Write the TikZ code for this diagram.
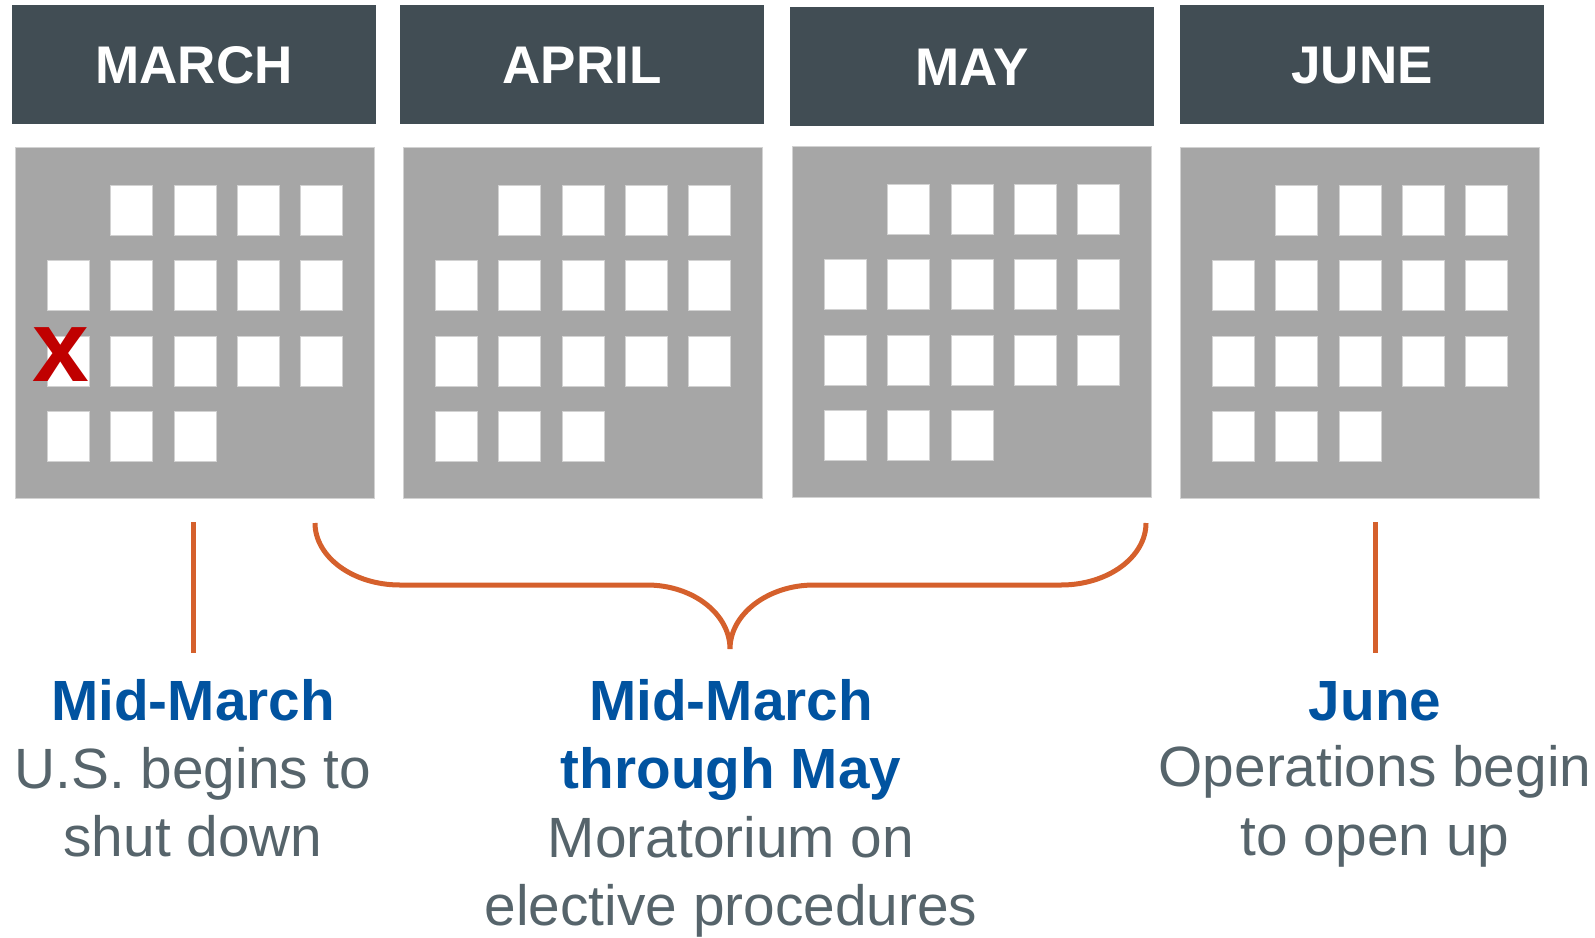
\documentclass[tikz,border=0pt]{standalone}
\usepackage{fontspec}
\setmainfont{Liberation Sans}
\usetikzlibrary{calc}

\definecolor{hdr}{HTML}{414D54}
\definecolor{calgray}{HTML}{A6A6A6}
\definecolor{caledge}{HTML}{D2D2D2}
\definecolor{accent}{HTML}{D5602C}
\definecolor{headblue}{HTML}{0153A0}
\definecolor{bodygray}{HTML}{56646B}
\definecolor{xred}{HTML}{C00000}

\tikzset{
  header/.style={fill=hdr, inner sep=0pt, anchor=north west,
    minimum width=364pt, minimum height=119pt, text=white,
    text height=38pt, text depth=0pt,
    font=\fontsize{53}{53}\selectfont\bfseries},
  calbody/.style={fill=calgray, draw=caledge, line width=0.8pt, inner sep=0pt,
    anchor=north west, minimum width=359pt, minimum height=351pt},
  day/.style={fill=white, draw=caledge, line width=0.8pt, inner sep=0pt,
    anchor=north west, minimum width=42pt, minimum height=50pt},
  marker/.style={draw=accent, line width=5pt},
  titleline/.style={anchor=base, inner sep=0pt, text=headblue,
    font=\fontsize{56.7}{68}\selectfont\bfseries},
  bodyline/.style={anchor=base, inner sep=0pt, text=bodygray,
    font=\fontsize{56.8}{68}\selectfont},
}

% one month: name, label, header corner, body corner
\newcommand\calmonth[4]{%
  \node[header] (#1-head) at (#3) {#2};
  \node[calbody] (#1-body) at (#4) {};
  \foreach \r/\clist in {1/{2,3,4,5},2/{1,2,3,4,5},3/{1,2,3,4,5},4/{1,2,3}}{%
    \foreach \c in \clist{%
      \pgfmathsetmacro\dx{32+(\c-1)*63.25}%
      \pgfmathsetmacro\dy{38+(\r-1)*75.33}%
      \node[day] (#1-d\r\c) at ($(#1-body.north west)+(\dx,\dy)$) {};
    }%
  }%
}

\begin{document}
\begin{tikzpicture}[x=1pt,y=-1pt]
  \useasboundingbox (0,0) rectangle (1595,937);

  \calmonth{mar}{MARCH}{12,5}{15,147}
  \calmonth{apr}{APRIL}{400,5}{403,147}
  \calmonth{may}{MAY}{790,7}{792,146}
  \calmonth{jun}{JUNE}{1180,5}{1180,147}

  % shutdown day
  \node[anchor=base, inner sep=0pt, text=xred,
        font=\fontsize{102}{102}\selectfont\bfseries] (shut) at (60.5,381) {x};

  % markers
  \coordinate (midA) at (193,522);
  \coordinate (midB) at (193,653);
  \draw[marker] (midA) -- (midB);

  \coordinate (junA) at (1375,522);
  \coordinate (junB) at (1375,653);
  \draw[marker] (junA) -- (junB);

  \coordinate (brL) at (315,523);
  \coordinate (brTip) at (730,649);
  \coordinate (brR) at (1146,523);
  \draw[marker] (brL) .. controls (315,557) and (353,585) .. (400,585)
    -- (647,585) .. controls (693,585) and (730,614) .. (brTip)
    .. controls (730,614) and (768,585) .. (814,585)
    -- (1061,585) .. controls (1108,585) and (1146,557) .. (brR);

  % captions
  \node[titleline] (capA0) at (193,720) {Mid-March};
  \node[bodyline]  (capA1) at (193,788) {U.S. begins to};
  \node[bodyline]  (capA2) at (193,856) {shut down};

  \node[titleline] (capB0) at (731,720) {Mid-March};
  \node[titleline] (capB1) at (731,788) {through May};
  \node[bodyline]  (capB2) at (731,857) {Moratorium on};
  \node[bodyline]  (capB3) at (731,925) {elective procedures};

  \node[titleline] (capC0) at (1375,720) {June};
  \node[bodyline]  (capC1) at (1375,786) {Operations begin};
  \node[bodyline]  (capC2) at (1375,855) {to open up};
\end{tikzpicture}
\end{document}
